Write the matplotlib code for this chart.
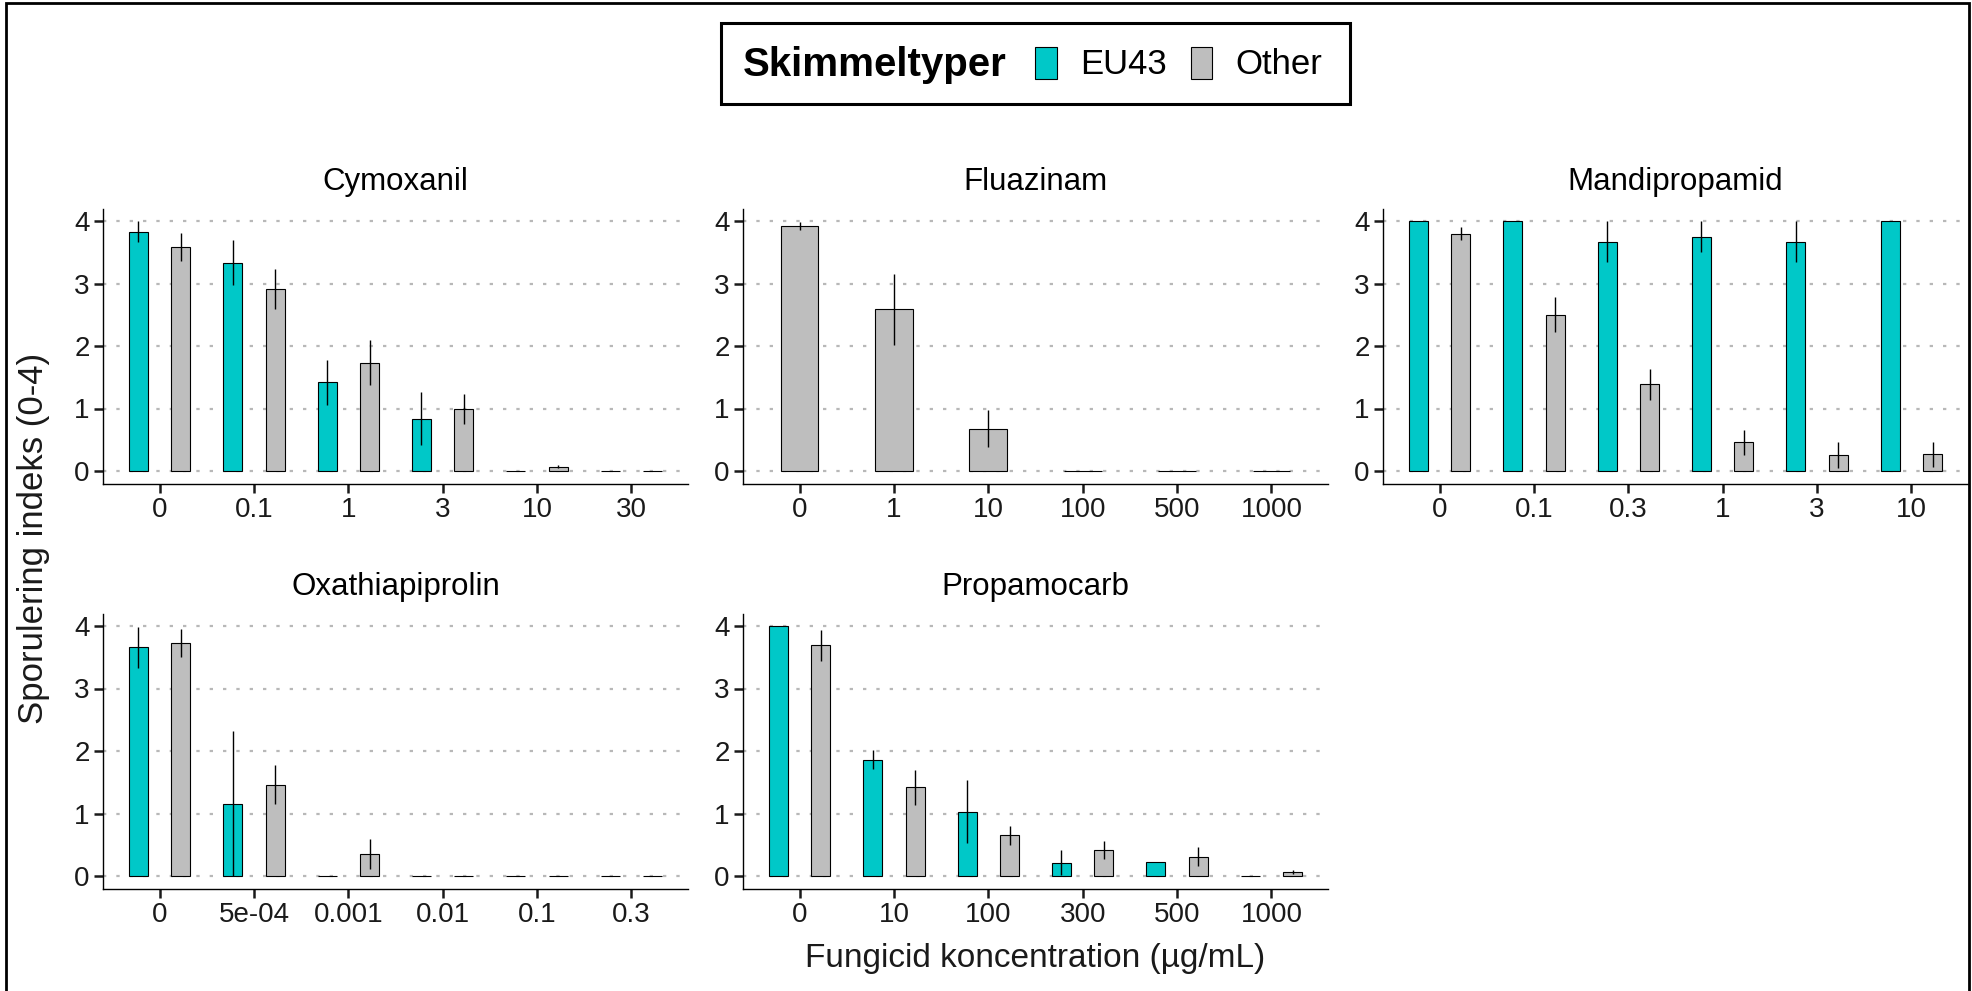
import numpy as np
import matplotlib.pyplot as plt
from matplotlib.patches import Patch, Rectangle

plt.rcParams['font.family'] = ['Liberation Sans', 'DejaVu Sans']

# data (mean sporulation index and standard error per concentration)
cymoxanil_conc = ['0', '0.1', '1', '3', '10', '30']
cymoxanil_eu43 = [3.83, 3.33, 1.42, 0.84, 0.0, 0.0]
cymoxanil_eu43_se = [0.17, 0.36, 0.36, 0.43, 0.0, 0.0]
cymoxanil_other = [3.58, 2.91, 1.73, 1.00, 0.07, 0.0]
cymoxanil_other_se = [0.22, 0.32, 0.36, 0.24, 0.02, 0.0]

fluazinam_conc = ['0', '1', '10', '100', '500', '1000']
fluazinam_other = [3.92, 2.59, 0.68, 0.0, 0.0, 0.0]
fluazinam_other_se = [0.07, 0.57, 0.29, 0.0, 0.0, 0.0]

mandipropamid_conc = ['0', '0.1', '0.3', '1', '3', '10']
mandipropamid_eu43 = [4.0, 4.0, 3.67, 3.75, 3.67, 4.0]
mandipropamid_eu43_se = [0.0, 0.0, 0.33, 0.25, 0.33, 0.0]
mandipropamid_other = [3.80, 2.50, 1.39, 0.46, 0.26, 0.27]
mandipropamid_other_se = [0.10, 0.28, 0.25, 0.20, 0.21, 0.20]

oxathiapiprolin_conc = ['0', '5e-04', '0.001', '0.01', '0.1', '0.3']
oxathiapiprolin_eu43 = [3.66, 1.16, 0.0, 0.0, 0.0, 0.0]
oxathiapiprolin_eu43_se = [0.33, 1.16, 0.0, 0.0, 0.0, 0.0]
oxathiapiprolin_other = [3.73, 1.46, 0.36, 0.0, 0.0, 0.0]
oxathiapiprolin_other_se = [0.22, 0.31, 0.24, 0.0, 0.0, 0.0]

propamocarb_conc = ['0', '10', '100', '300', '500', '1000']
propamocarb_eu43 = [4.0, 1.86, 1.03, 0.21, 0.23, 0.0]
propamocarb_eu43_se = [0.0, 0.15, 0.50, 0.20, 0.0, 0.0]
propamocarb_other = [3.69, 1.42, 0.65, 0.42, 0.31, 0.07]
propamocarb_other_se = [0.25, 0.28, 0.15, 0.14, 0.15, 0.03]

TEAL = '#00C8C8'
GREY = '#BEBEBE'

W, H = 1972, 991
fig = plt.figure(figsize=(W / 100, H / 100), dpi=100)


def px_axes(l, t, r, b):
    return fig.add_axes([l / W, 1 - b / H, (r - l) / W, (b - t) / H])


def draw_panel(ax, title, labels, other, other_se, eu=None, eu_se=None):
    x = np.arange(len(labels))
    if eu is not None:
        ax.bar(x - 0.225, eu, width=0.2, color=TEAL, edgecolor='black',
               linewidth=0.8, zorder=3)
        ax.errorbar(x - 0.225, eu, yerr=eu_se, fmt='none', ecolor='black',
                    elinewidth=1, capsize=0, zorder=4)
        xo, wo = x + 0.225, 0.2
    else:
        xo, wo = x, 0.4
    ax.bar(xo, other, width=wo, color=GREY, edgecolor='black',
           linewidth=0.8, zorder=3)
    ax.errorbar(xo, other, yerr=other_se, fmt='none', ecolor='black',
                elinewidth=1, capsize=0, zorder=4)

    ax.set_xlim(-0.6, len(labels) - 0.4)
    ax.set_ylim(-0.2, 4.2)
    ax.set_xticks(x, labels)
    ax.set_yticks([0, 1, 2, 3, 4])
    ax.tick_params(axis='both', length=6.5, width=1.8, labelsize=20,
                   colors='#1a1a1a')
    ax.tick_params(axis='x', pad=3.5)
    ax.tick_params(axis='y', pad=3)
    ax.yaxis.grid(True, linestyle=(0, (1.5, 4.5)), color='#B8B8B8', linewidth=1.6)
    ax.set_axisbelow(True)
    for s in ['top', 'right']:
        ax.spines[s].set_visible(False)
    for s in ['left', 'bottom']:
        ax.spines[s].set_linewidth(1.0)
    ax.set_title(title, fontsize=22.5, pad=13.3)


cols = [(103, 688), (743, 1328), (1383, 1968)]
rows = [(208.5, 483.5), (613.5, 888.5)]

ax1 = px_axes(cols[0][0], rows[0][0], cols[0][1], rows[0][1])
draw_panel(ax1, 'Cymoxanil', cymoxanil_conc, cymoxanil_other, cymoxanil_other_se,
           cymoxanil_eu43, cymoxanil_eu43_se)
ax2 = px_axes(cols[1][0], rows[0][0], cols[1][1], rows[0][1])
draw_panel(ax2, 'Fluazinam', fluazinam_conc, fluazinam_other, fluazinam_other_se)
ax3 = px_axes(cols[2][0], rows[0][0], cols[2][1], rows[0][1])
draw_panel(ax3, 'Mandipropamid', mandipropamid_conc, mandipropamid_other,
           mandipropamid_other_se, mandipropamid_eu43, mandipropamid_eu43_se)
ax4 = px_axes(cols[0][0], rows[1][0], cols[0][1], rows[1][1])
draw_panel(ax4, 'Oxathiapiprolin', oxathiapiprolin_conc, oxathiapiprolin_other,
           oxathiapiprolin_other_se, oxathiapiprolin_eu43, oxathiapiprolin_eu43_se)
ax5 = px_axes(cols[1][0], rows[1][0], cols[1][1], rows[1][1])
draw_panel(ax5, 'Propamocarb', propamocarb_conc, propamocarb_other,
           propamocarb_other_se, propamocarb_eu43, propamocarb_eu43_se)

# axis titles
fig.text(34 / W, 1 - 538 / H, 'Sporulering indeks (0-4)', rotation=90,
         ha='center', va='center', fontsize=25, color='#1a1a1a')
fig.text(1035 / W, 1 - 967 / H, 'Fungicid koncentration (µg/mL)',
         ha='center', va='baseline', fontsize=24, color='#1a1a1a')

# legend
handles = [Patch(facecolor=TEAL, edgecolor='black', linewidth=0.8),
           Patch(facecolor=GREY, edgecolor='black', linewidth=0.8)]
fig.legend(handles, ['EU43', 'Other'], ncol=2, frameon=False,
           loc='center left', bbox_to_anchor=(1035 / W, 1 - 64 / H),
           borderaxespad=0, borderpad=0, handlelength=0.63, handleheight=1.04,
           handletextpad=0.66, columnspacing=0.69, fontsize=25)
fig.text(743 / W, 1 - 76 / H, 'Skimmeltyper', ha='left', va='baseline',
         fontsize=29, fontweight='bold')
fig.add_artist(Rectangle((721 / W, 1 - 104 / H), 629 / W, 81 / H,
                         transform=fig.transFigure, fill=False,
                         edgecolor='black', linewidth=2.2))

# outer frame
fig.add_artist(Rectangle((6 / W, -0.02), (1969 - 6) / W, 1 - 3 / H + 0.02,
                         transform=fig.transFigure, fill=False,
                         edgecolor='black', linewidth=2))

fig.savefig('out.png', dpi=100)
